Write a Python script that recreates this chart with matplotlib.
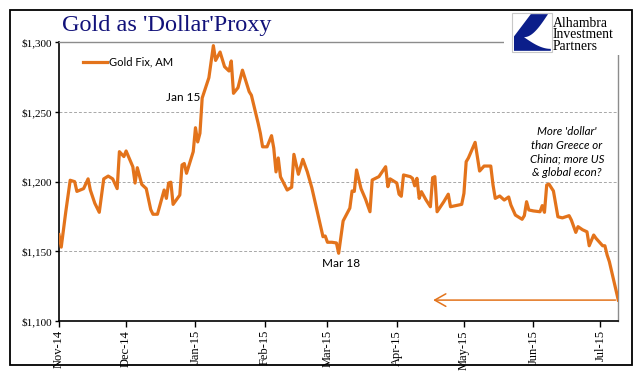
import numpy as np
import pandas as pd
import matplotlib
matplotlib.use("Agg")
import matplotlib.pyplot as plt
import matplotlib.dates as mdates
from matplotlib.ticker import FuncFormatter
from matplotlib.patches import Rectangle, Polygon

# ---- data ----
start_date = "2014-11-01"
day_offset = [0, 1, 3, 5, 7, 8, 11, 13, 14, 16, 18, 20, 22, 24, 26, 27, 29, 30, 33, 34,
              35, 37, 39, 41, 42, 44, 47, 48, 49, 50, 51, 54, 55, 56, 57, 60, 61, 62, 63, 64,
              67, 69, 70, 72, 74, 76, 77, 78, 80, 82, 85, 86, 89, 90, 91, 93, 95, 96, 97, 98,
              99, 102, 104, 105, 107, 109, 111, 113, 118, 119, 120, 122, 124, 125, 127, 130, 131, 132, 133, 135,
              137, 139, 140, 143, 146, 147, 148, 151, 152, 153, 154, 157, 158, 159, 160, 161, 162, 164, 166, 167,
              168, 169, 172, 174, 175, 180, 181, 182, 183, 186, 188, 190, 193, 194, 195, 197, 199, 201, 202, 204,
              207, 208, 209, 210, 212, 215, 216, 217, 218, 219, 221, 223, 225, 228, 229, 231, 232, 234, 236, 237,
              239, 240, 243, 244, 245, 246, 250]
gold_fix_am = [1162, 1153, 1178, 1201, 1200, 1193, 1195, 1202, 1194, 1184.5, 1178, 1202, 1204, 1202, 1195, 1221.5, 1218, 1222, 1210.7, 1199,
               1210, 1198, 1195, 1180, 1176.6, 1176.6, 1194, 1188, 1199, 1199.6, 1183.7, 1190.4, 1212, 1213, 1206, 1221.5, 1238.7, 1228.5, 1234.7, 1260,
               1274.6, 1297.6, 1287, 1293, 1282.5, 1279.4, 1286.6, 1263.4, 1267.4, 1280, 1264.6, 1262, 1242, 1234.7, 1225, 1225, 1233, 1224, 1207, 1217,
               1203.5, 1194, 1196, 1219.6, 1205.3, 1216, 1207, 1195.7, 1160.5, 1161, 1156.5, 1156.5, 1156, 1148.6, 1171.8, 1181, 1193.3, 1193, 1208.4, 1195,
               1187.5, 1178.4, 1201.2, 1203.6, 1210.7, 1196.4, 1202, 1199, 1191, 1189.5, 1204.8, 1203.6, 1202.4, 1197, 1202.4, 1188, 1192.8, 1187, 1182, 1202.8,
               1203.6, 1178.4, 1185.6, 1191, 1182, 1183.7, 1191.6, 1214.3, 1217, 1228.2, 1207.6, 1211.2, 1211.2, 1197.6, 1188, 1189.7, 1186.8, 1189, 1183.2, 1176,
               1173, 1175.6, 1185.6, 1179.7, 1179, 1178.4, 1182.8, 1178, 1197.6, 1198.3, 1193.3, 1174.8, 1174, 1175.6, 1172.5, 1163.6, 1167.7, 1165.5, 1164, 1154,
               1161.7, 1159.4, 1154, 1154, 1147.4, 1142.6, 1115]
y_ticks = [1100, 1150, 1200, 1250, 1300]
month_ticks = pd.date_range("2014-11-01", "2015-07-01", freq="MS")
title_text = "Gold as 'Dollar'Proxy"
series_name = "Gold Fix, AM"
note_text = "More 'dollar'\nthan Greece or\nChina; more US\n& global econ?"
logo_text = "Alhambra\nInvestment\nPartners"

dates = pd.Timestamp(start_date) + pd.to_timedelta(day_offset, unit="D")

ORANGE = "#E3731B"
NAVY = "#12127A"
SERIF = ["Liberation Serif", "DejaVu Serif"]
SANS = ["Lato", "DejaVu Sans"]

fig = plt.figure(figsize=(6.41, 3.81), dpi=100)
fig.patch.set_facecolor("white")
ax = fig.add_axes([59 / 641, 1 - 321 / 381, (618.3 - 59) / 641, (321 - 42.3) / 381])

ax.plot(dates, gold_fix_am, color=ORANGE, lw=2.3, solid_joinstyle="round", zorder=3)

ax.set_xlim(dates[0], dates[-1])
ax.set_ylim(1100, 1300)
ax.set_yticks(y_ticks)
ax.yaxis.set_major_formatter(FuncFormatter(lambda v, p: f"${v:,.0f}"))
ax.set_xticks(month_ticks)
ax.xaxis.set_major_formatter(mdates.DateFormatter("%b-%y"))

ax.yaxis.grid(True, linestyle=(0, (3, 2)), color="#A8A8A8", lw=0.7)
ax.set_axisbelow(True)

for s in ["left", "bottom"]:
    ax.spines[s].set_color("black")
    ax.spines[s].set_linewidth(1.2)
for s in ["top", "right"]:
    ax.spines[s].set_color("#8C8C8C")
    ax.spines[s].set_linewidth(1.0)

ax.tick_params(axis="y", direction="out", length=3, width=1, pad=2, labelsize=8)
ax.tick_params(axis="x", direction="out", length=4, width=1, pad=2.5, labelsize=9, labelrotation=90)
for lab in ax.get_xticklabels() + ax.get_yticklabels():
    lab.set_family(SERIF)

# legend
ax.legend([series_name], loc="upper left", bbox_to_anchor=(0.025, 0.985), frameon=False,
          handlelength=2.2, handletextpad=0.15, prop={"family": SANS, "size": 8})

# annotations
ax.text(dates[day_offset.index(64)] - pd.Timedelta(days=1), 1260.5, "Jan 15", ha="right", va="center",
        family=SANS, fontsize=8.5)
ax.text(dates[day_offset.index(125)] + pd.Timedelta(days=1), 1141, "Mar 18", ha="center", va="center",
        family=SANS, fontsize=8.5)
ax.text(dates[day_offset.index(228)] - pd.Timedelta(days=1), 1221, note_text, ha="center", va="center",
        family=SANS, style="italic", fontsize=8.3, linespacing=1.3)

# arrow pointing back to earlier levels
ax.annotate("", xy=(dates[day_offset.index(166)], gold_fix_am[-1]), xytext=(dates[-1], gold_fix_am[-1]),
            arrowprops=dict(arrowstyle="->,head_length=0.8,head_width=0.45", color=ORANGE, lw=1.1))

# title
fig.text(167 / 641, 1 - 25 / 381, title_text, ha="center", va="center", family=SERIF,
         fontsize=17.5, color=NAVY)

# outer border
fig.patches.append(Rectangle((10 / 641, 1 - 365 / 381), (632 - 10) / 641, (365 - 9.5) / 381,
                             transform=fig.transFigure, fill=False, edgecolor="black", lw=1.3, zorder=10))

# logo: white box covering top-right of plot frame
fig.patches.append(Rectangle((504 / 641, 1 - 55 / 381), (631 - 504) / 641, (55 - 11) / 381,
                             transform=fig.transFigure, facecolor="white", edgecolor="none", zorder=5))
lx0, ly0, lw_, lh_ = 512, 13, 40, 39
def L(u, v):
    return ((lx0 + u * lw_) / 641, 1 - (ly0 + (1 - v) * lh_) / 381)
fig.patches.append(Rectangle(L(0, 0), lw_ / 641, lh_ / 381, transform=fig.transFigure,
                             facecolor="white", edgecolor="#C8C8C8", lw=0.8, zorder=6))
tt = np.linspace(0, 1, 24)
vx, vy = 0.3, 0.38
upper_inner = [L(0.9 - (0.9 - vx) * t, 0.97 - (0.97 - vy) * np.sin(t * np.pi / 2)) for t in tt]
lower_inner = [L(vx + (0.97 - vx) * t, vy - (vy - 0.08) * np.sin(t * np.pi / 2)) for t in tt]
shape = ([L(0.47, 0.97)] + upper_inner + lower_inner +
         [L(0.97, 0.03), L(0.05, 0.03), L(0.05, 0.4)])
fig.patches.append(Polygon(shape, closed=True, transform=fig.transFigure,
                           facecolor="#0B1E8A", edgecolor="none", zorder=7))
fig.text(553 / 641, 1 - 35 / 381, logo_text, ha="left", va="center", family=SERIF,
         fontsize=9.8, color="black", linespacing=0.86, zorder=8)

fig.savefig("out.png", dpi=100, facecolor="white")
